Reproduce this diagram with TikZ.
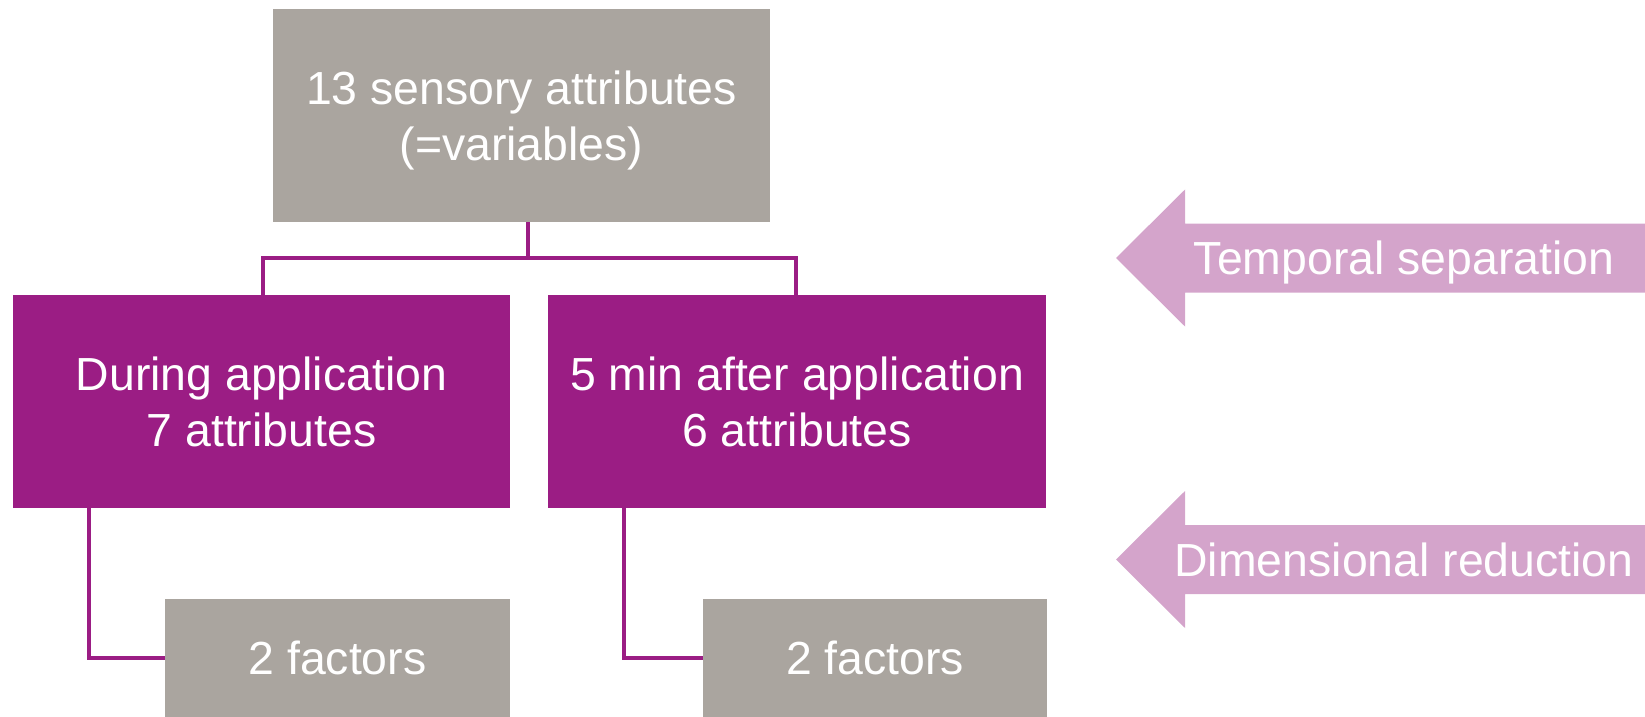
\documentclass[tikz,border=0pt]{standalone}
\usepackage{fontspec}
\setmainfont{Liberation Sans}
\begin{document}
\definecolor{boxgrey}{RGB}{170,165,159}
\definecolor{boxpurple}{RGB}{155,29,132}
\definecolor{arrowpink}{RGB}{212,164,203}
\begin{tikzpicture}[x=0.5pt,y=-0.5pt,
  txt/.style={text=white,font=\fontsize{23.2}{28}\selectfont,align=center,
    text height=16.8pt,text depth=0pt,inner sep=0pt},
  twolines/.style={text height=44.8pt},
  greybox/.style={txt,fill=boxgrey,rectangle},
  purplebox/.style={txt,fill=boxpurple,rectangle},
  conn/.style={draw=boxpurple,line width=2pt},
  band/.style={fill=arrowpink}]
\useasboundingbox (0,0) rectangle (1645,717);

% boxes of the tree
\node[greybox,twolines,minimum width=248.5pt,minimum height=106.5pt] (top) at (521.5,115.5)
  {13 sensory attributes\\(=variables)};
\node[purplebox,twolines,minimum width=248.5pt,minimum height=106.5pt] (during) at (261.5,401.5)
  {During application\\7 attributes};
\node[purplebox,twolines,minimum width=249pt,minimum height=106.5pt] (after) at (797,401.5)
  {5 min after application\\6 attributes};
\node[greybox,minimum width=172.5pt,minimum height=59pt] (fa) at (337.5,658) {2 factors};
\node[greybox,minimum width=172pt,minimum height=59pt] (fb) at (875,658) {2 factors};

% connectors
\coordinate (hub) at (528,258);
\draw[conn] (top.south -| hub) -- (hub);
\draw[conn] (during.north -| 263,0) |- (hub);
\draw[conn] (after.north -| 796,0) |- (hub);
\draw[conn] ([xshift=38pt]during.south west) |- (fa.west);
\draw[conn] ([xshift=38pt]after.south west) |- (fb.west);

% left-pointing bands on the right
\fill[band] (1116,258) -- (1185,189.5) -- (1185,223.5) -- (1645,223.5)
  -- (1645,292.5) -- (1185,292.5) -- (1185,326.5) -- cycle;
\node[txt] (temporal) at (1404,258) {Temporal separation};
\fill[band] (1116,559.5) -- (1185,491) -- (1185,525) -- (1645,525)
  -- (1645,594) -- (1185,594) -- (1185,628) -- cycle;
\node[txt] (dimred) at (1404,559.5) {Dimensional reduction};
\end{tikzpicture}
\end{document}
